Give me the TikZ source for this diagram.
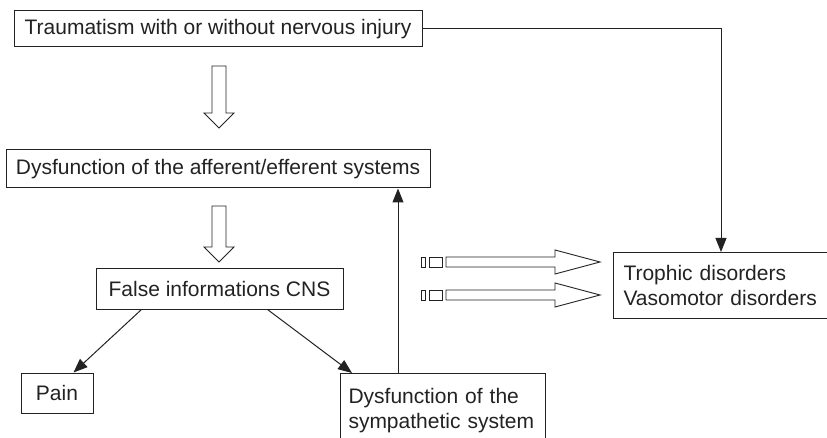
\documentclass[tikz,border=0pt]{standalone}
\usepackage{fontspec}
\setmainfont{Liberation Sans}
\usetikzlibrary{arrows.meta}
\definecolor{InkGray}{HTML}{222222}

\begin{document}
\begin{tikzpicture}[x=1pt, y=-1pt, every node/.style={align=left},
    box/.style={draw=InkGray, line width=1pt, inner sep=0pt, text=InkGray,
                font=\fontsize{21}{25}\selectfont},
    link/.style={draw=InkGray, line width=1pt, -{Triangle[length=14pt,width=11pt]}},
    hollow/.style={draw=InkGray, line width=0.9pt, fill=white}]
      \useasboundingbox (0,0) rectangle (827,438);
      % boxes
      \node[box, minimum width=408pt, minimum height=36pt] (trauma) at (218,29)
            {Traumatism with or without nervous injury};
      \node[box, minimum width=424pt, minimum height=38pt] (afferent) at (218,169)
            {Dysfunction of the afferent/efferent systems};
      \node[box, minimum width=247pt, minimum height=40pt] (cns) at (219.5,289)
            {False informations CNS};
      \node[box, minimum width=72pt, minimum height=40pt] (pain) at (57,393) {Pain};
      \node[box, anchor=north west, inner xsep=8pt, inner ysep=15pt,
            text width=189pt] (sympa) at (340,373)
            {Dysfunction of the\\sympathetic system\\\strut};
      \node[box, anchor=north west, inner xsep=10pt, inner ysep=13pt,
            text width=207pt] (trophic) at (613,252)
            {Trophic disorders\\Vasomotor disorders};
      % connectors
      \draw[link] (trauma.east) -| (trophic.north -| 721,0);
      \draw[link] ([xshift=46pt]cns.south west) -- ([xshift=53pt]pain.north west);
      \draw[link] ([xshift=172pt]cns.south west) -- ([xshift=12pt]sympa.north west);
      \draw[link] ([xshift=58pt]sympa.north west) -- (afferent.south -| 398,0);
      % hollow arrows
      \foreach \ya/\yb in {66/128, 206/262}{
        \draw[hollow] (212,\ya) -- (226,\ya) -- (226,\yb-15) -- (234,\yb-15)
              -- (219,\yb) -- (204,\yb-15) -- (212,\yb-15) -- cycle;
      }
      \foreach \yc in {262, 295}{
        \draw[hollow] (421,\yc-5) rectangle (425,\yc+5);
        \draw[hollow] (429,\yc-5) rectangle (442,\yc+5);
        \draw[hollow] (446,\yc-5) -- (555,\yc-5) -- (555,\yc-12) -- (600,\yc)
              -- (555,\yc+12) -- (555,\yc+5) -- (446,\yc+5) -- cycle;
      }
    \end{tikzpicture}
\end{document}
